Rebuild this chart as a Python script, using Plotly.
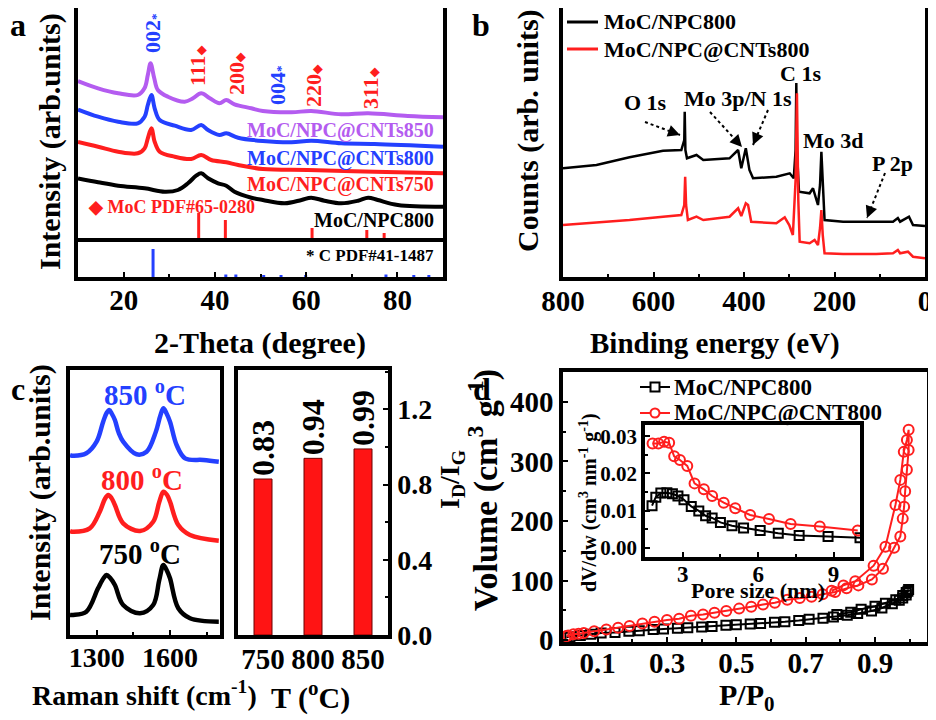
import plotly.graph_objects as go

# page is shown with the browser's 8px body margin, so the figure is 8px smaller
# and all reference pixel positions are shifted back by that margin
W, H = 928, 712
OFF = 8
FONT = "Liberation Serif"
PURPLE = "#B45CF0"
BLUE = "#2440FF"
RED = "#FF1E1E"


def px(x):
    return (x - OFF) / W


def py(y):
    return 1 - (y - OFF) / H


# ---------------- panel a : XRD (arb. units) ----------------
tt_850 = [10, 14.4, 18.8, 23.1, 24.6, 25.3, 25.9, 26.7, 27.5, 29.7, 33.4, 35.2, 37.0, 38.9, 41.0, 42.5, 44.3,
          48.0, 50.5, 56.8, 61.1, 67.7, 73.6, 82.3, 90]
i_850 = [157, 149.7, 144.7, 143, 150, 163, 174.7, 160, 148, 141.3, 136.3, 139.7, 144.7, 139.7, 134.7, 138, 133.7,
         129.7, 127, 125.7, 127, 123.7, 124.7, 122, 120.7]
tt_800 = [10, 14.4, 18.8, 23.1, 24.6, 25.3, 26.1, 26.8, 27.9, 31.2, 34.8, 37.0, 38.5, 41.0, 42.5, 45.1, 50.5,
          56.8, 61.1, 67.7, 75.0, 90]
i_800 = [128.5, 121.3, 116.3, 114.7, 121.3, 133, 143, 129.7, 118, 112.3, 108, 113, 108, 103, 104.7, 100.3, 97,
         95.7, 97.3, 94.7, 94, 91.3]
tt_750 = [10, 14.4, 18.8, 23.1, 24.6, 25.3, 26.1, 26.8, 27.9, 31.2, 34.8, 37.0, 39.2, 42.5, 45.1, 50.5, 60.4,
          75.0, 90]
i_750 = [96, 91.3, 86.3, 84.7, 89.7, 99.7, 109.7, 96.3, 86.3, 81.3, 79, 83, 78, 75.7, 73, 69, 68, 66.3, 64.7]
tt_npc = [10, 14.4, 18.8, 24.6, 29.0, 31.9, 34.1, 35.9, 37.0, 38.5, 40.7, 42.5, 44.3, 48.0, 50.5, 55.3, 59.0,
          61.1, 64.0, 67.7, 71.4, 73.6, 75.7, 80.1, 90]
i_npc = [59.5, 55.7, 52.3, 49.7, 46.3, 48, 54.7, 62.3, 64.7, 59.7, 54.7, 52.3, 46.3, 40.3, 38, 34.7, 38, 40.3,
         37.3, 34.7, 37.3, 40.3, 38, 33, 31.3]

moc_pos = [36.45, 42.3, 61.3, 73.3, 77.1]
moc_int = [25, 18, 10, 8, 5]
c_pos = [26.45, 42.4, 44.6, 50.7, 54.5, 59.9, 77.5, 83.6, 86.9]
c_int = [28, 2.5, 2.5, 2, 2, 2, 2.5, 2, 2]

# ---------------- panel b : XPS survey ----------------
be_npc = [800, 726, 653, 579, 538.5, 532, 531, 529.5, 526, 505, 490, 432, 413, 406, 396, 388, 380, 328.5, 299,
          290, 286, 284.4, 283, 280, 278.5, 255, 247.5, 236.5, 232, 229, 226, 222, 181, 122, 70.7, 60, 55,
          35.4, 26.5, 0]
cnt_npc = [108.7, 112, 119.7, 126.3, 127, 137, 165.3, 127, 118.7, 122, 117, 118.7, 127, 108.7, 128.7, 107, 98.7,
           100.3, 103.7, 98.7, 127, 194, 127, 87, 85.3, 83.7, 88.7, 72, 92, 125.3, 92, 57, 55.3, 55.3, 55.3,
           59, 55.3, 60.3, 52, 51]
be_cnt = [800, 726, 653, 579, 538.5, 532, 530, 528, 524, 505, 490, 432, 413, 406, 396, 391, 384, 328.5, 310,
          300, 292, 286, 283, 280, 277, 255, 244, 236.5, 232, 229, 226, 222, 181, 108, 70.7, 60, 55, 37.6,
          26.5, 0]
cnt_cnt = [52, 54.3, 57, 60.3, 62, 72, 100.3, 72, 57, 60.3, 57, 60.3, 68.7, 61, 73.7, 72, 55.3, 53.7, 59.7, 52,
           42, 97, 183.7, 77, 35.3, 33.7, 37, 32, 49, 67, 42, 23.7, 23, 23, 23.7, 27, 23.7, 25.3, 20.3, 18.7]

# ---------------- panel c : Raman + I_D/I_G ----------------
rs_850 = [1190, 1203, 1257, 1299, 1326, 1340, 1351, 1362, 1374, 1390, 1408, 1463, 1504, 1542, 1560, 1573, 1585,
          1600, 1627, 1662, 1737, 1800]
ri_850 = [180, 179.3, 181.7, 193.3, 213.3, 222, 225, 221, 215, 202, 193.3, 180.7, 183.3, 203.3, 219, 226.7,
          222, 213.3, 190, 176.7, 175, 173.3]
rs_800 = [1190, 1203, 1271, 1312, 1333, 1347, 1360, 1374, 1408, 1477, 1531, 1556, 1573, 1588, 1600, 1634, 1682,
          1800]
ri_800 = [104, 103.3, 106.7, 123.3, 136, 140, 137, 130, 111.7, 104, 113.3, 133, 143.3, 140, 133.3, 110, 100, 94.3]
rs_750 = [1190, 1203, 1257, 1305, 1328, 1340, 1355, 1374, 1408, 1477, 1531, 1556, 1573, 1588, 1600, 1634, 1682,
          1800]
ri_750 = [20, 20, 23.3, 46.7, 57, 60, 57, 50, 30, 21.7, 30, 55, 70, 64, 56.7, 26.7, 16.7, 13.3]

temps = ["750", "800", "850"]
id_ig = [0.83, 0.94, 0.99]

# ---------------- panel d : N2 isotherms + PSD ----------------
pp_npc = [0.01, 0.02, 0.05, 0.08, 0.11, 0.15, 0.19, 0.22, 0.26, 0.29, 0.33, 0.36, 0.40, 0.43, 0.47, 0.50, 0.54,
          0.57, 0.61, 0.64, 0.68, 0.71, 0.75, 0.78, 0.82, 0.85, 0.89, 0.92, 0.95, 0.97, 0.98, 0.99, 0.995,
          0.997, 0.99, 0.98, 0.96, 0.93, 0.90, 0.86, 0.83, 0.79]
vol_npc = [5, 6, 8, 10, 12, 13, 15, 16, 18, 19, 20, 21, 22, 23, 25, 26, 27, 28, 30, 31, 33, 35, 37, 39, 42, 45,
           49, 54, 61, 67, 71, 76, 82, 85, 80, 75, 68, 62, 57, 52, 47, 43]
pp_cnt = [0.01, 0.015, 0.03, 0.045, 0.06, 0.09, 0.125, 0.159, 0.192, 0.229, 0.264, 0.3, 0.335, 0.369, 0.404,
          0.437, 0.471, 0.508, 0.543, 0.577, 0.611, 0.647, 0.683, 0.717, 0.749, 0.785, 0.818, 0.852, 0.891,
          0.923, 0.955, 0.973, 0.98, 0.984, 0.987, 0.992, 0.997, 0.997, 0.992, 0.983, 0.973, 0.959, 0.93,
          0.896, 0.843, 0.809, 0.775]
vol_cnt = [7, 8, 10, 11, 12, 15, 18, 21, 24, 28, 31, 34, 36, 41, 43, 46, 49, 53, 56, 60, 63, 68, 71, 73, 77, 81,
           87, 92, 102, 120, 155, 174, 204, 224, 250, 286, 319, 353, 336, 316, 269, 227, 157, 125, 99, 92, 83]

pore_npc = [1.78, 1.93, 2.13, 2.37, 2.59, 2.81, 3.05, 3.34, 3.64, 3.91, 4.17, 4.50, 4.96, 5.42, 6.08, 6.80, 7.63,
            8.78, 10.05]
dvdw_npc = [0.0113, 0.0136, 0.0147, 0.0148, 0.0145, 0.0139, 0.0129, 0.0111, 0.0099, 0.0086, 0.0080, 0.0068,
            0.0059, 0.0053, 0.0046, 0.0039, 0.0033, 0.0030, 0.0027]
pore_cnt = [1.80, 2.03, 2.26, 2.46, 2.66, 2.89, 3.18, 3.47, 3.84, 4.17, 4.63, 5.09, 5.68, 6.43, 7.29, 8.45, 9.96]
dvdw_cnt = [0.0280, 0.0280, 0.0285, 0.0282, 0.0246, 0.0236, 0.0220, 0.0173, 0.0157, 0.0139, 0.0121, 0.0106,
            0.0088, 0.0077, 0.0064, 0.0057, 0.0046]

fig = go.Figure()


def line(x, y, color, xa, ya, width=4, shape="spline", **kw):
    fig.add_trace(go.Scatter(x=x, y=y, mode="lines", xaxis=xa, yaxis=ya, showlegend=False,
                             line=dict(color=color, width=width, shape=shape), hoverinfo="skip", **kw))


def sticks(pos, hgt):
    xs, ys = [], []
    for p, h in zip(pos, hgt):
        xs += [p, p, None]
        ys += [0, h, None]
    return xs, ys


# panel a
line(tt_850, i_850, PURPLE, "x", "y")
line(tt_800, i_800, BLUE, "x", "y")
line(tt_750, i_750, RED, "x", "y")
line(tt_npc, i_npc, "black", "x", "y")
sx, sy = sticks(moc_pos, moc_int)
line(sx, sy, RED, "x", "y", width=3, shape="linear")
sx, sy = sticks(c_pos, c_int)
line(sx, sy, BLUE, "x2", "y2", width=3, shape="linear")

# panel b
line(be_npc, cnt_npc, "black", "x3", "y3", width=2.5, shape="linear", name="MoC/NPC800")
line(be_cnt, cnt_cnt, RED, "x3", "y3", width=2.5, shape="linear", name="MoC/NPC@CNTs800")

# panel c
line(rs_850, ri_850, BLUE, "x4", "y4", width=4.5)
line(rs_800, ri_800, RED, "x4", "y4", width=4.5)
line(rs_750, ri_750, "black", "x4", "y4", width=4.5)
fig.add_trace(go.Bar(x=temps, y=id_ig, xaxis="x5", yaxis="y5", showlegend=False, width=0.36,
                     marker=dict(color="#FF1414", line=dict(color="#6a0000", width=1)),
                     text=[f"{v:.2f}" for v in id_ig], textposition="outside", textangle=-90,
                     constraintext="none", cliponaxis=False,
                     textfont=dict(family=FONT, size=32, color="black", weight="bold")))

# panel d
mk_sq = dict(symbol="square-open", size=9, color="black", line=dict(width=2))
mk_ci = dict(symbol="circle-open", size=10, color=RED, line=dict(width=2))
fig.add_trace(go.Scatter(x=pp_npc, y=vol_npc, mode="lines+markers", name="MoC/NPC800", xaxis="x6", yaxis="y6",
                         showlegend=False, line=dict(color="black", width=2), marker=mk_sq))
fig.add_trace(go.Scatter(x=pp_cnt, y=vol_cnt, mode="lines+markers", name="MoC/NPC@CNT800", xaxis="x6",
                         yaxis="y6", showlegend=False, line=dict(color=RED, width=2), marker=mk_ci))
fig.add_trace(go.Scatter(x=pore_npc, y=dvdw_npc, mode="lines+markers", xaxis="x7", yaxis="y7", showlegend=False,
                         line=dict(color="black", width=2), marker=mk_sq))
fig.add_trace(go.Scatter(x=pore_cnt, y=dvdw_cnt, mode="lines+markers", xaxis="x7", yaxis="y7", showlegend=False,
                         line=dict(color=RED, width=2), marker=mk_ci))

MINOR = dict(ticks="inside", ticklen=3, tickcolor="black", tickwidth=2)


def axis(dom, rng, anchor, size=29, **kw):
    d = dict(domain=[max(0, dom[0]), min(1, dom[1])], range=rng, anchor=anchor, showline=True, linewidth=3.5,
             linecolor="black", mirror=True, showgrid=False, zeroline=False, ticks="inside", ticklen=5,
             tickwidth=2, tickcolor="black", automargin=False,
             tickfont=dict(family=FONT, size=size, color="black", weight="bold"))
    d.update(kw)
    return d


xa_a = [px(78), px(443)]
xa_b = [px(563), px(925)]
fig.update_layout(
    xaxis=axis(xa_a, [10, 90], "y", showticklabels=False, ticks=""),
    yaxis=axis([py(238), py(8)], [0, 230], "x", showticklabels=False, ticks=""),
    xaxis2=axis(xa_a, [10, 90], "y2", mirror=False, tick0=20, dtick=20, ticklabelstandoff=-6,
                minor=dict(dtick=10, **MINOR)),
    yaxis2=axis([py(277), py(238)], [0, 39], "x2", showticklabels=False, ticks=""),
    xaxis3=axis(xa_b, [800, 0], "y3", tick0=0, dtick=200, ticklabelstandoff=-5, minor=dict(dtick=100, **MINOR)),
    yaxis3=axis([py(277), py(8)], [0, 269], "x3", showticklabels=False, ticks=""),
    xaxis4=axis([px(70), px(220)], [1190, 1805], "y4", size=28, tickvals=[1300, 1600], ticklabelstandoff=-5,
                minor=dict(tickvals=[1450, 1750], **MINOR)),
    yaxis4=axis([py(635), py(370)], [0, 265], "x4", showticklabels=False, ticks=""),
    xaxis5=axis([px(238), px(388)], [-0.5, 2.5], "y5", size=29, type="category", ticks="",
                ticklabelstandoff=-5),
    yaxis5=axis([py(635), py(370)], [0, 1.41], "x5", size=28, side="right", tick0=0, dtick=0.4,
                tickformat=".1f", minor=dict(dtick=0.2, **MINOR)),
    xaxis6=axis([px(563), px(927)], [0, 1.05], "y6", size=29, tick0=0.1, dtick=0.2, ticklabelstandoff=-8,
                minor=dict(dtick=0.1, **MINOR)),
    yaxis6=axis([py(642), py(372)], [-3, 450], "x6", size=29, tick0=0, dtick=100,
                minor=dict(dtick=50, **MINOR)),
    xaxis7=axis([px(645), px(860)], [1.5, 10.05], "y7", size=23, tick0=3, dtick=3, ticklabelstandoff=-6,
                minor=dict(dtick=1.5, **MINOR)),
    yaxis7=axis([py(557), py(425)], [-0.0025, 0.033], "x7", size=21, tick0=0, dtick=0.01, tickformat=".2f",
                minor=dict(dtick=0.005, **MINOR)),
    showlegend=False,
    width=W, height=H, margin=dict(l=0, r=0, t=0, b=0, autoexpand=False),
    paper_bgcolor="white", plot_bgcolor="rgba(0,0,0,0)",
    font=dict(family=FONT, color="black", weight="bold"),
)

notes = [
    # panel letters
    ("a", 18, 25, 32, "black", 0), ("b", 481, 25, 32, "black", 0),
    ("c", 18, 389, 32, "black", 0), ("d", 482, 389, 32, "black", 0),
    # panel a
    ("Intensity (arb.units)", 50, 142, 30, "black", -90),
    ("2-Theta (degree)", 260, 343, 30, "black", 0),
    ("002<span style='font-size:13px'>*</span>", 152, 33, 22, BLUE, -90),
    ("111<span style='font-size:12px'>◆</span>", 197, 66, 22, RED, -90),
    ("200<span style='font-size:12px'>◆</span>", 236, 74, 22, RED, -90),
    ("004<span style='font-size:13px'>*</span>", 278, 85, 22, BLUE, -90),
    ("220<span style='font-size:12px'>◆</span>", 313, 86, 22, RED, -90),
    ("311<span style='font-size:12px'>◆</span>", 370, 88, 22, RED, -90),
    ("Intensity (arb.units)", 40, 493, 30, "black", -90),
    # panel b
    ("Counts (arb. units)", 528, 131, 30, "black", -90),
    ("Binding energy (eV)", 715, 343, 29, "black", 0),
    ("O 1s", 645, 103, 22, "black", 0),
    ("Mo 3p/N 1s", 738, 98, 22, "black", 0),
    ("C 1s", 800, 73, 22, "black", 0),
    ("Mo 3d", 833, 140, 22, "black", 0),
    ("P 2p", 892, 163, 22, "black", 0),
    # panel c
    ("850 <sup>o</sup>C", 145, 393, 29, BLUE, 0),
    ("800 <sup>o</sup>C", 142, 478, 29, RED, 0),
    ("750 <sup>o</sup>C", 140, 552, 29, "black", 0),
    ("Raman shift (cm<sup>-1</sup>)", 144, 693, 28, "black", 0),
    ("T (<sup>o</sup>C)", 310, 695, 30, "black", 0),
    ("I<sub>D</sub>/I<sub>G</sub>", 452, 480, 28, "black", -90),
    # panel d
    ("Volume (cm<sup>3</sup> g<sup>-1</sup>)", 483, 490, 34, "black", -90),
    ("P/P<sub>0</sub>", 747, 697, 30, "black", 0),
    ("Pore size (nm)", 758, 590, 22, "black", 0),
    ("dV/dw (cm<sup>3</sup> nm<sup>-1</sup> g<sup>-1</sup>)", 588, 503, 20, "black", -90),
]
for txt, x, y, s, c, ang in notes:
    fig.add_annotation(text=txt, x=px(x), y=py(y), xref="paper", yref="paper", showarrow=False,
                       textangle=ang, xanchor="center", yanchor="middle",
                       font=dict(family=FONT, size=s, color=c, weight="bold"))

# right-aligned sample labels in panel a
for txt, y, c in [("MoC/NPC@CNTs850", 131, PURPLE), ("MoC/NPC@CNTs800", 158, BLUE),
                  ("MoC/NPC@CNTs750", 185, RED), ("MoC/NPC800", 220, "black"),
                  ("* C PDF#41-1487", 255, "black")]:
    s = 17 if txt.startswith("*") else 20
    fig.add_annotation(text=txt, x=px(436), y=py(y), xref="paper", yref="paper", showarrow=False,
                       xanchor="right", yanchor="middle", font=dict(family=FONT, size=s, color=c, weight="bold"))
fig.add_annotation(text="◆ MoC PDF#65-0280", x=px(86), y=py(207), xref="paper", yref="paper", showarrow=False,
                   xanchor="left", yanchor="middle", font=dict(family=FONT, size=18, color=RED, weight="bold"))

# dotted arrows in panel b
for (x0, y0), (x1, y1) in [((645, 122), (680, 135)), ((710, 112), (742, 147)),
                           ((768, 110), (753, 145)), ((885, 173), (867, 218))]:
    fig.add_shape(type="line", xref="paper", yref="paper", x0=px(x0), y0=py(y0), x1=px(x1), y1=py(y1),
                  line=dict(color="black", width=2, dash="dot"))
    dx, dy = x1 - x0, y1 - y0
    n = (dx * dx + dy * dy) ** 0.5
    fig.add_annotation(x=px(x1), y=py(y1), xref="paper", yref="paper", text="", showarrow=True,
                       ax=-dx / n * 8, ay=-dy / n * 8, arrowhead=2, arrowsize=1.2, arrowwidth=2,
                       arrowcolor="black")

# legends (drawn by hand so they sit exactly where the reference puts them)
for name, y, c in [("MoC/NPC800", 22, "black"), ("MoC/NPC@CNTs800", 49, RED)]:
    fig.add_shape(type="line", xref="paper", yref="paper", x0=px(567), x1=px(598), y0=py(y), y1=py(y),
                  line=dict(color=c, width=3))
    fig.add_annotation(text=name, x=px(602), y=py(y), xref="paper", yref="paper", showarrow=False,
                       xanchor="left", yanchor="middle", font=dict(family=FONT, size=22, color="black",
                                                                   weight="bold"))
for name, y, c, kind in [("MoC/NPC800", 387, "black", "rect"), ("MoC/NPC@CNT800", 413, RED, "circle")]:
    fig.add_shape(type="line", xref="paper", yref="paper", x0=px(640), x1=px(670), y0=py(y), y1=py(y),
                  line=dict(color=c, width=2))
    fig.add_shape(type=kind, xref="paper", yref="paper", x0=px(650.5), x1=px(659.5), y0=py(y + 4.5),
                  y1=py(y - 4.5), line=dict(color=c, width=2), fillcolor="white")
    fig.add_annotation(text=name, x=px(672), y=py(y), xref="paper", yref="paper", showarrow=False,
                       xanchor="left", yanchor="middle", font=dict(family=FONT, size=23, color="black",
                                                                   weight="bold"))

fig.write_html("out.html")
